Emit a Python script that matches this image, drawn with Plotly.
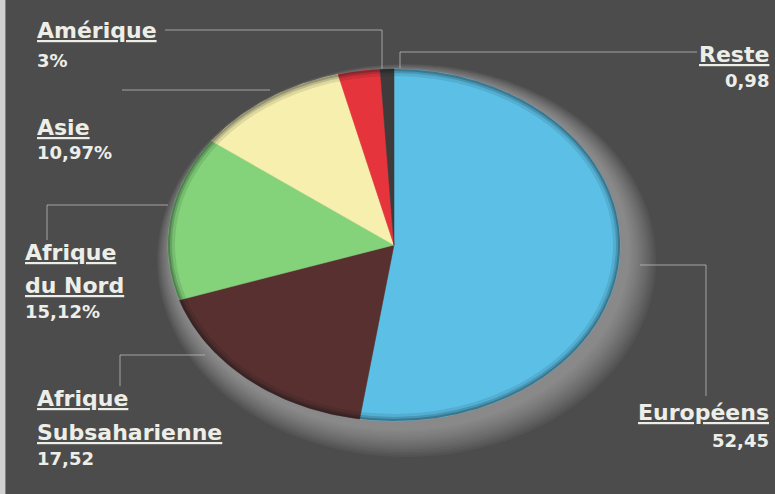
import numpy as np
import plotly.graph_objects as go

# ---- data ----
categories = ["Européens", "Afrique Subsaharienne", "Afrique du Nord", "Asie", "Amérique", "Reste"]
values = [52.45, 17.52, 15.12, 10.97, 3.0, 0.98]
value_labels = ["52,45", "17,52", "15,12%", "10,97%", "3%", "0,98"]
name_lines = [["Européens"], ["Afrique", "Subsaharienne"], ["Afrique", "du Nord"], ["Asie"], ["Amérique"], ["Reste"]]
colors = ["#5cc0e6", "#57302f", "#84d27a", "#f6efae", "#e6343c", "#3f3b3a"]

# ---- geometry of the (elliptical) pie ----
CX, CY, RX, RY = 394, 245, 226, 176
W, H = 775, 494

fig = go.Figure()

total = sum(values)
start = 0.0
for cat, v, col in zip(categories, values, colors):
    a0 = start / total * 2 * np.pi
    a1 = (start + v) / total * 2 * np.pi
    t = np.linspace(a0, a1, max(int(v * 4), 6))
    xs = np.concatenate([[CX], CX + RX * np.sin(t), [CX]])
    ys = np.concatenate([[CY], CY - RY * np.cos(t), [CY]])
    fig.add_trace(go.Scatter(x=xs, y=ys, fill="toself", fillcolor=col, mode="lines",
                             line=dict(color=col, width=0.5), name=cat, hoverinfo="name",
                             showlegend=False))
    start += v

shapes = []
# glow halo behind the pie (strongest toward bottom-right)
for i in range(12):
    g = 30 - i * 2.4
    shapes.append(dict(type="circle", xref="x", yref="y", layer="below",
                       x0=CX - RX - g * 0.5 + 4, x1=CX + RX + g + 6,
                       y0=CY - RY - g * 0.3 + 4, y1=CY + RY + g + 6,
                       fillcolor="rgba(215,215,215,0.05)", line=dict(width=0)))
# dark rim on the pie
for w_, op in [(7, 0.10), (4, 0.16), (2, 0.22)]:
    shapes.append(dict(type="circle", xref="x", yref="y", layer="above",
                       x0=CX - RX + w_ / 2, x1=CX + RX - w_ / 2,
                       y0=CY - RY + w_ / 2, y1=CY + RY - w_ / 2,
                       fillcolor="rgba(0,0,0,0)", line=dict(color=f"rgba(10,20,25,{op})", width=w_)))

# leader lines
LC = "rgba(200,200,200,0.7)"
leaders = [
    [(165, 30), (382, 30), (382, 70)],      # Amérique
    [(697, 52), (400, 52), (400, 68)],      # Reste
    [(122, 90), (270, 90)],                 # Asie
    [(47, 240), (47, 205), (168, 205)],     # Afrique du Nord
    [(120, 386), (120, 355), (205, 355)],   # Subsaharienne
    [(640, 265), (706, 265), (706, 396)],   # Européens
]
for pts in leaders:
    for (x0, y0), (x1, y1) in zip(pts[:-1], pts[1:]):
        shapes.append(dict(type="line", xref="x", yref="y", x0=x0, y0=y0, x1=x1, y1=y1,
                           line=dict(color=LC, width=1), layer="below"))

# left light strip
shapes.append(dict(type="rect", xref="paper", yref="paper", x0=0, x1=0.007, y0=0, y1=1,
                   fillcolor="#d0d0d0", line=dict(width=0), layer="below"))

TXT = "#eeeee8"
FONT = "DejaVu Sans"
ann = []


def label(lines, val, x, y_lines, y_val, anchor):
    for ln, yy in zip(lines, y_lines):
        ann.append(dict(x=x, y=yy, xref="x", yref="y", text=ln,
                        showarrow=False, xanchor=anchor, yanchor="middle",
                        font=dict(family=FONT, size=22, color=TXT, weight="bold",
                                  lineposition="under")))
    ann.append(dict(x=x, y=y_val, xref="x", yref="y", text=val,
                    showarrow=False, xanchor=anchor, yanchor="middle",
                    font=dict(family=FONT, size=18, color=TXT, weight="bold")))


label(name_lines[4], value_labels[4], 35, [30], 60, "left")
label(name_lines[5], value_labels[5], 771, [54], 80, "right")
label(name_lines[3], value_labels[3], 35, [127], 152, "left")
label(name_lines[2], value_labels[2], 23, [252, 285], 311, "left")
label(name_lines[1], value_labels[1], 35, [398, 432], 458, "left")
label(name_lines[0], value_labels[0], 771, [412], 440, "right")

fig.update_layout(
    width=W, height=H, margin=dict(l=0, r=0, t=0, b=0),
    paper_bgcolor="#4c4c4c", plot_bgcolor="#4c4c4c",
    xaxis=dict(range=[0, W], visible=False, fixedrange=True),
    yaxis=dict(range=[H, 0], visible=False, fixedrange=True),
    shapes=shapes, annotations=ann, showlegend=False,
)
fig.write_html("out.html", config={"displayModeBar": False},
               post_script="document.body.style.margin='0';")
